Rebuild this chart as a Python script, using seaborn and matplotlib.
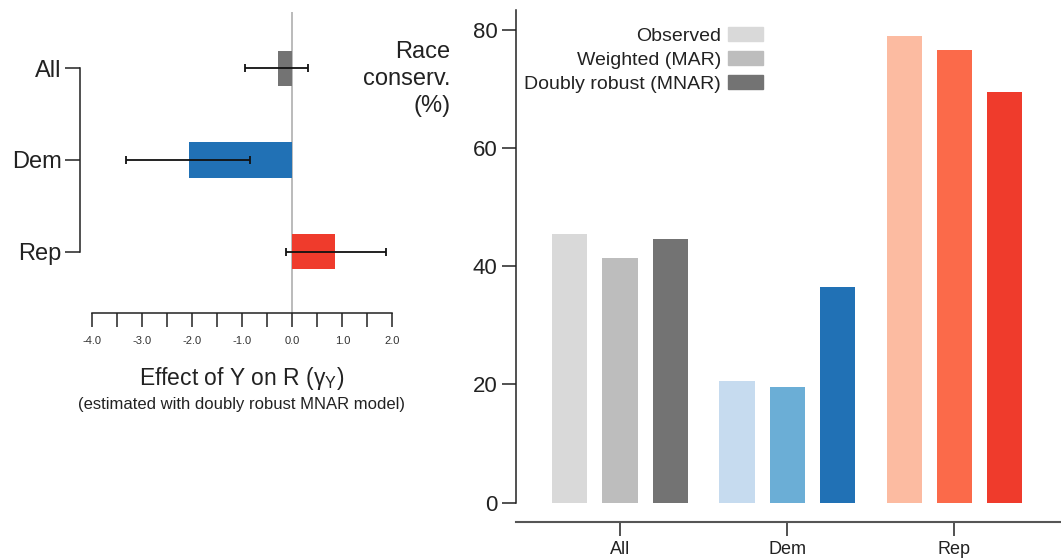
import matplotlib
matplotlib.use("Agg")
import matplotlib.pyplot as plt
import matplotlib.patches as mpatches
import numpy as np
import pandas as pd
import seaborn as sns

# ---- data ----
groups = ["All", "Dem", "Rep"]

# effect of Y on R (gamma_Y) with interval ends
gamma_y = [-0.29, -2.07, 0.85]
gamma_lo = [-0.95, -3.33, -0.13]
gamma_hi = [0.32, -0.85, 1.87]

methods = ["Observed", "Weighted (MAR)", "Doubly robust (MNAR)"]
conserv_all = [45.4, 41.3, 44.5]
conserv_dem = [20.5, 19.6, 36.4]
conserv_rep = [78.9, 76.6, 69.4]

greys = ["#d9d9d9", "#bdbdbd", "#737373"]
blues = ["#c6dbef", "#6baed6", "#2171b5"]
reds = ["#fcbba1", "#fb6a4a", "#ef3b2c"]
group_main = {"All": greys[2], "Dem": blues[2], "Rep": reds[2]}

sns.set_style("ticks")
plt.rcParams["font.family"] = ["Liberation Sans", "DejaVu Sans"]
plt.rcParams["text.color"] = "#222222"
plt.rcParams["axes.edgecolor"] = "#222222"
plt.rcParams["xtick.color"] = "#222222"
plt.rcParams["ytick.color"] = "#222222"

W, H = 1061, 559
fig = plt.figure(figsize=(W / 100, H / 100), dpi=100)

# ==============================
# left panel: effect of Y on R
# ==============================
ax1 = fig.add_axes([80.3 / W, 1 - 313.3 / H, (400 - 80.3) / W, (313.3 - 11.7) / H])

sns.barplot(x=gamma_y, y=groups, hue=groups, palette=group_main, orient="h",
            width=0.385, saturation=1, linewidth=0, legend=False, ax=ax1)

ypos = np.arange(len(groups))
xerr = [np.array(gamma_y) - np.array(gamma_lo), np.array(gamma_hi) - np.array(gamma_y)]
ax1.errorbar(gamma_y, ypos, xerr=xerr, fmt="none", ecolor="#111111",
             elinewidth=1.3, capsize=3.2, capthick=1.3, zorder=4)
ax1.axvline(0, color="#bbbbbb", lw=1.4, zorder=0)

ax1.set_xlim(-4.24, 2.154)
ax1.set_ylim(2.672, -0.617)
ax1.set_xticks(np.arange(-4, 2.1, 1.0))
ax1.set_xticklabels([f"{v:.1f}" for v in np.arange(-4, 2.1, 1.0)])
ax1.set_xticks(np.arange(-3.5, 2.0, 1.0), minor=True)
ax1.tick_params(axis="x", which="both", length=10, width=1.1, pad=6, labelsize=8,
                labelcolor="#333333")
ax1.tick_params(axis="y", length=10.5, width=1.1, pad=3, labelsize=17)
ax1.set_xlabel("")
ax1.set_ylabel("")
for s in ["top", "right"]:
    ax1.spines[s].set_visible(False)
ax1.spines["bottom"].set_bounds(-4, 2)
ax1.spines["left"].set_bounds(0, 2)
for s in ["bottom", "left"]:
    ax1.spines[s].set_linewidth(1.1)

fig.text(242 / W, 1 - 378 / H, r"Effect of Y on R ($\mathregular{\gamma_Y}$)",
         ha="center", va="center", fontsize=16.5)
fig.text(242 / W, 1 - 404 / H, "(estimated with doubly robust MNAR model)",
         ha="center", va="center", fontsize=12)

# ==============================
# right panel: race conservatism
# ==============================
ax2 = fig.add_axes([516 / W, 1 - 502.7 / H, (W - 516) / W, (502.7 - 10) / H])

df = pd.DataFrame({
    "group": np.repeat(groups, len(methods)),
    "method": methods * len(groups),
    "value": conserv_all + conserv_dem + conserv_rep,
})
sns.barplot(data=df, x="group", y="value", hue="method", palette=greys,
            width=0.9, gap=0.3, saturation=1, linewidth=0, legend=False, ax=ax2)

# recolour bars per group (greys / blues / reds)
shades = [greys, blues, reds]
for i, cont in enumerate(ax2.containers):
    for j, bar in enumerate(cont):
        bar.set_facecolor(shades[j][i])

ax2.set_xlim(-0.622, 2.638)
ax2.set_ylim(0, 83.3)
ax2.set_yticks([0, 20, 40, 60, 80])
ax2.tick_params(axis="y", length=10, width=1.1, pad=3.5, labelsize=16)
ax2.tick_params(axis="x", length=10, width=1.1, pad=4, labelsize=13)
ax2.set_xlabel("")
ax2.set_ylabel("")
for s in ["top", "right"]:
    ax2.spines[s].set_visible(False)
ax2.spines["left"].set_linewidth(1.1)
ax2.spines["bottom"].set_position(("outward", 13.7))
ax2.spines["bottom"].set_linewidth(1.5)
ax2.spines["bottom"].set_color("#555555")

handles = [mpatches.Patch(color=c) for c in greys]
ax2.legend(handles, methods, loc="upper right", frameon=False, markerfirst=False,
           fontsize=14, handlelength=1.8, handleheight=0.7, handletextpad=0.35,
           labelspacing=0.33, borderpad=0, borderaxespad=0,
           bbox_to_anchor=(762.7 / W, 1 - 27 / H), bbox_transform=fig.transFigure)

fig.text(450.5 / W, 1 - 79 / H, "Race\nconserv.\n(%)", ha="right", va="center",
         multialignment="right", fontsize=17, linespacing=1.3)

fig.savefig("out.png", dpi=100)
